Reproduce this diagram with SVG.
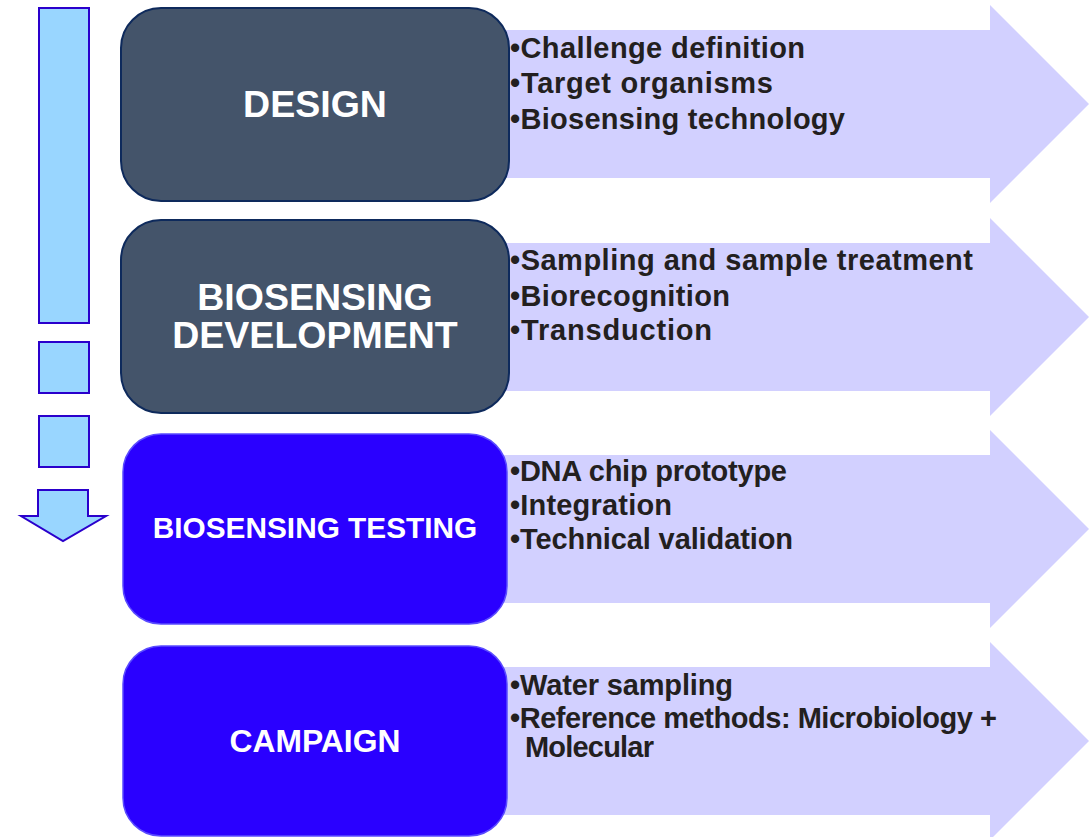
<svg xmlns="http://www.w3.org/2000/svg" width="1089" height="837" viewBox="0 0 1089 837">
  <style>
    .band { fill: #d2d0ff; }
    .dark { fill: #44546a; stroke: #0e2a5c; stroke-width: 2; }
    .bright { fill: #2a00ff; stroke: #5a4bff; stroke-width: 1.5; }
    .seg { fill: #99d6ff; stroke: #2a00cc; stroke-width: 2; }
    .title { font-family: "Liberation Sans", Arial, sans-serif; font-weight: bold; fill: #ffffff; text-anchor: middle; }
    .item { font-family: "Liberation Sans", Arial, sans-serif; font-weight: bold; font-size: 29px; fill: #231f20; }
  </style>

  <!-- vertical progress indicator on the left -->
  <g id="progress">
    <rect class="seg" x="39" y="8" width="50" height="315"/>
    <rect class="seg" x="39" y="342" width="50" height="51"/>
    <rect class="seg" x="39" y="416" width="50" height="51"/>
    <polygon class="seg" points="38,490 88,490 88,516 106,516 63,541 21,516 38,516"/>
  </g>

  <!-- stage 1 -->
  <g id="design">
    <polygon class="band" points="490,30 990,30 990,5 1089,104 990,203 990,178 490,178"/>
    <rect class="dark" x="121" y="8" width="388" height="193" rx="40"/>
    <text class="title" x="315" y="117" font-size="37.5">DESIGN</text>
    <text class="item" x="510" y="58" textLength="295" lengthAdjust="spacing">•Challenge definition</text>
    <text class="item" x="510" y="93" textLength="263" lengthAdjust="spacing">•Target organisms</text>
    <text class="item" x="510" y="129" textLength="335" lengthAdjust="spacing">•Biosensing technology</text>
  </g>

  <!-- stage 2 -->
  <g id="development">
    <polygon class="band" points="490,243 990,243 990,218 1089,317 990,416 990,391 490,391"/>
    <rect class="dark" x="121" y="220" width="388" height="193" rx="40"/>
    <text class="title" x="315" y="310" font-size="37.5">BIOSENSING</text>
    <text class="title" x="315" y="348" font-size="37.5">DEVELOPMENT</text>
    <text class="item" x="510" y="270" textLength="463" lengthAdjust="spacing">•Sampling and sample treatment</text>
    <text class="item" x="510" y="306" textLength="220" lengthAdjust="spacing">•Biorecognition</text>
    <text class="item" x="510" y="340" textLength="202" lengthAdjust="spacing">•Transduction</text>
  </g>

  <!-- stage 3 -->
  <g id="testing">
    <polygon class="band" points="490,455 990,455 990,430 1089,529 990,628 990,603 490,603"/>
    <rect class="bright" x="123" y="434" width="384" height="190" rx="38"/>
    <text class="title" x="315" y="538" font-size="29.8">BIOSENSING TESTING</text>
    <text class="item" x="510" y="481" textLength="277" lengthAdjust="spacing">•DNA chip prototype</text>
    <text class="item" x="510" y="515" textLength="162" lengthAdjust="spacing">•Integration</text>
    <text class="item" x="510" y="549" textLength="283" lengthAdjust="spacing">•Technical validation</text>
  </g>

  <!-- stage 4 -->
  <g id="campaign">
    <polygon class="band" points="490,667 990,667 990,642 1089,741 990,840 990,815 490,815"/>
    <rect class="bright" x="123" y="646" width="384" height="190" rx="38"/>
    <text class="title" x="315" y="752" font-size="31.8">CAMPAIGN</text>
    <text class="item" x="510" y="695" textLength="223" lengthAdjust="spacing">•Water sampling</text>
    <text class="item" x="510" y="728" textLength="487" lengthAdjust="spacing">•Reference methods: Microbiology +</text>
    <text class="item" x="525" y="757" textLength="129" lengthAdjust="spacing">Molecular</text>
  </g>

  <g id="connectors"></g>
</svg>
